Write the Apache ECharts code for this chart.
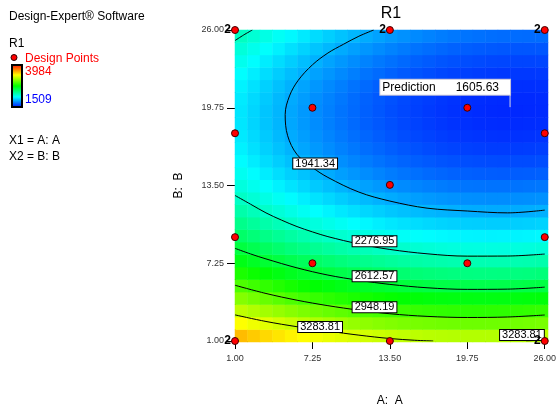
<!DOCTYPE html>
<html><head><meta charset="utf-8">
<script src="https://cdn.jsdelivr.net/npm/echarts@6/dist/echarts.min.js"></script>
<style>html,body{margin:0;padding:0;background:#fff}#c{width:559px;height:412px}</style>
</head><body><div id="c"></div>
<script>
// ---------- data ----------
const cellA = [1.5,2.5,3.5,4.5,5.5,6.5,7.5,8.5,9.5,10.5,11.5,12.5,13.5,14.5,15.5,16.5,17.5,18.5,19.5,20.5,21.5,22.5,23.5,24.5,25.5];
const cellB = [1.5,2.5,3.5,4.5,5.5,6.5,7.5,8.5,9.5,10.5,11.5,12.5,13.5,14.5,15.5,16.5,17.5,18.5,19.5,20.5,21.5,22.5,23.5,24.5,25.5];
// estimated R1 surface, one row per B (bottom to top), one column per A (left to right)
const r1Grid = [
[3527,3491,3457,3425,3395,3367,3341,3316,3294,3274,3256,3240,3225,3213,3202,3194,3188,3183,3181,3180,3182,3185,3190,3198,3207],
[3364,3328,3294,3261,3231,3202,3176,3152,3129,3109,3090,3073,3059,3046,3035,3027,3020,3015,3012,3011,3013,3016,3021,3028,3037],
[3211,3175,3140,3107,3077,3048,3021,2996,2974,2953,2934,2917,2902,2889,2878,2869,2862,2857,2854,2852,2853,2856,2861,2867,2876],
[3068,3031,2996,2963,2932,2903,2876,2851,2828,2806,2787,2770,2755,2741,2730,2721,2713,2708,2705,2703,2703,2706,2710,2717,2725],
[2934,2897,2862,2828,2797,2768,2740,2715,2691,2670,2650,2633,2617,2604,2592,2582,2575,2569,2565,2563,2563,2565,2570,2576,2584],
[2810,2772,2737,2703,2671,2642,2614,2588,2565,2543,2523,2505,2489,2475,2463,2453,2445,2439,2435,2433,2433,2435,2438,2444,2452],
[2695,2657,2622,2588,2556,2526,2498,2472,2447,2425,2405,2387,2371,2357,2344,2334,2326,2319,2315,2312,2312,2313,2317,2322,2329],
[2590,2552,2516,2482,2449,2419,2391,2364,2340,2318,2297,2279,2262,2247,2235,2224,2215,2209,2204,2201,2200,2202,2205,2210,2217],
[2495,2456,2420,2385,2353,2322,2293,2267,2242,2219,2198,2180,2163,2148,2135,2124,2115,2108,2103,2100,2099,2100,2102,2107,2114],
[2409,2370,2334,2299,2266,2235,2206,2179,2154,2131,2110,2090,2073,2058,2045,2033,2024,2017,2011,2008,2007,2007,2010,2014,2020],
[2333,2294,2257,2222,2188,2157,2128,2100,2075,2052,2030,2011,1993,1978,1964,1952,1943,1935,1929,1926,1924,1924,1926,1930,1937],
[2266,2227,2190,2154,2120,2089,2059,2032,2006,1982,1960,1941,1923,1907,1893,1881,1871,1863,1857,1853,1851,1851,1853,1857,1862],
[2209,2170,2132,2096,2062,2030,2000,1972,1946,1922,1900,1880,1862,1846,1832,1819,1809,1801,1794,1790,1788,1787,1789,1792,1798],
[2162,2122,2084,2048,2014,1981,1951,1923,1896,1872,1850,1829,1811,1794,1780,1767,1757,1748,1741,1737,1734,1733,1734,1737,1743],
[2124,2084,2046,2009,1975,1942,1911,1883,1856,1831,1809,1788,1769,1752,1738,1725,1714,1705,1698,1693,1690,1689,1690,1692,1697],
[2096,2055,2017,1980,1945,1912,1881,1852,1825,1800,1777,1756,1737,1720,1705,1692,1680,1671,1664,1659,1655,1654,1654,1657,1661],
[2078,2037,1998,1960,1925,1892,1861,1832,1804,1779,1756,1734,1715,1697,1682,1668,1657,1647,1640,1634,1630,1628,1629,1631,1635],
[2069,2027,1988,1950,1915,1881,1850,1820,1793,1767,1743,1722,1702,1684,1668,1655,1643,1633,1625,1619,1615,1613,1613,1615,1618],
[2069,2028,1988,1950,1914,1881,1849,1819,1791,1765,1741,1719,1699,1681,1665,1650,1638,1628,1620,1613,1609,1607,1606,1608,1611],
[2080,2038,1998,1959,1923,1889,1857,1827,1799,1772,1748,1726,1705,1687,1670,1656,1643,1633,1624,1618,1613,1610,1610,1611,1614],
[2099,2057,2017,1978,1942,1907,1875,1844,1816,1789,1765,1742,1721,1702,1686,1671,1658,1647,1638,1631,1626,1623,1622,1623,1626],
[2129,2086,2046,2007,1970,1935,1902,1872,1843,1816,1791,1768,1747,1728,1711,1696,1682,1671,1662,1655,1649,1646,1645,1645,1648],
[2168,2125,2084,2045,2008,1973,1940,1908,1879,1852,1827,1803,1782,1763,1745,1730,1716,1705,1695,1688,1682,1678,1677,1677,1679],
[2217,2173,2132,2093,2055,2020,1986,1955,1925,1898,1872,1848,1827,1807,1789,1774,1760,1748,1738,1730,1724,1720,1718,1718,1720],
[2275,2231,2190,2150,2112,2076,2043,2011,1981,1953,1927,1903,1881,1861,1843,1827,1813,1801,1791,1782,1776,1772,1770,1769,1771]
];
const colorMin = 1509, colorMax = 3984;

// contour lines [A, B]
const contour1941 = [[12.2,26],[11,25.5],[9.75,24.85],[8.5,24.15],[7.25,23.2],[6.1,21.95],[5.4,20.7],[5.05,19.2],[5.25,17.5],[6,16.0],[7.25,14.95],[8.5,14.15],[11,12.97],[13.5,12.25],[16.5,11.68],[19.75,11.45],[23,11.3],[26,11.52]];
const contour2277 = [[1,12.7],[2.25,12.0],[3.5,11.3],[4.75,10.72],[6,10.2],[7.25,9.77],[8.5,9.39],[11,8.8],[13.5,8.36],[16.5,8.01],[19.75,7.82],[23,7.83],[26,7.99]];
const contour2277Corner = [[1,25.15],[1.7,25.6],[2.4,26]];
const contour2613 = [[1,8.45],[2.25,8.0],[3.5,7.6],[6,6.88],[8.5,6.3],[11,5.88],[13.5,5.55],[16.5,5.28],[19.75,5.15],[23,5.17],[26,5.33]];
const contour2948 = [[1,5.48],[3.5,4.82],[6,4.28],[8.5,3.84],[11,3.48],[13.5,3.19],[16.5,2.98],[19.75,2.89],[23,2.93],[26,3.09]];
const contour3284 = [[1,3.1],[3.5,2.57],[6,2.15],[8.5,1.8],[11,1.47],[13.5,1.2],[15.5,1.06],[17,1.0]];
const contour3284Right = [[24.5,1.0],[25.3,1.05],[26,1.1]];
const contourLines = [contour1941, contour2277, contour2277Corner, contour2613, contour2948, contour3284, contour3284Right];

// contour labels [A, B, text]
const contourLabels = [[7.47,15.26,'1941.34'],[12.26,9.01,'2276.95'],[12.26,6.2,'2612.57'],[12.26,3.72,'2948.19'],[7.87,2.12,'3283.81'],[24.16,1.48,'3283.81']];

// design points [A, B, replicates]
const designPoints = [[1,26,2],[13.5,26,2],[26,26,2],[7.25,19.75,1],[19.75,19.75,1],[1,17.7,1],[26,17.7,1],[13.5,13.55,1],[1,9.35,1],[26,9.35,1],[7.25,7.25,1],[19.75,7.25,1],[1,1,2],[13.5,1,1],[26,1,2]];

const predictionPoint = [23.2, 19.8];
const predictionPole = [[23.2,19.8],[23.2,20.78]];
const predictionValue = '1605.63';

const xTicks = [1, 7.25, 13.5, 19.75, 26];
const yTicks = [1, 7.25, 13.5, 19.75, 26];

// ---------- chart ----------
const FONT = 'Liberation Sans, Arial, sans-serif';
const heatData = [];
r1Grid.forEach((row, j) => row.forEach((v, i) => heatData.push([i, j, v])));

const chart = echarts.init(document.getElementById('c'), null, {renderer: 'canvas'});
const gridBox = {left: 235, top: 30, width: 313, height: 312};

const series = [{
  type: 'heatmap', xAxisIndex: 0, yAxisIndex: 0, data: heatData,
  emphasis: {disabled: true}, progressive: 0, itemStyle: {borderWidth: 0}, z: 1
}];
contourLines.forEach(pts => series.push({
  type: 'line', xAxisIndex: 1, yAxisIndex: 1, data: pts, smooth: 0.35, symbol: 'none',
  lineStyle: {color: '#000', width: 1}, silent: true, z: 3
}));
series.push({
  type: 'scatter', xAxisIndex: 1, yAxisIndex: 1, data: contourLabels, symbolSize: 0, silent: true, z: 4, clip: false,
  itemStyle: {opacity: 1},
  label: {show: true, position: 'inside', formatter: p => p.value[2], fontFamily: FONT, fontSize: 11, color: '#000',
    backgroundColor: '#fff', borderColor: '#000', borderWidth: 1, padding: [0, 2, 0, 2], lineHeight: 10}
});
series.push({
  type: 'line', xAxisIndex: 1, yAxisIndex: 1, data: predictionPole, symbol: 'none', silent: true, z: 4,
  lineStyle: {color: '#d0d0e8', width: 1}
});
series.push({
  type: 'scatter', xAxisIndex: 1, yAxisIndex: 1, data: [predictionPoint], symbolSize: 0, silent: true, z: 5, clip: false,
  itemStyle: {opacity: 1},
  label: {show: true, position: 'left', distance: 0, offset: [0, -20],
    formatter: '{a|Prediction}{b|' + predictionValue + '}',
    backgroundColor: '#fff', borderColor: '#c0c0d8', borderWidth: 1, padding: [2, 11, 1, 2],
    rich: {a: {fontFamily: FONT, fontSize: 12, color: '#000'}, b: {fontFamily: FONT, fontSize: 12, color: '#000', padding: [0, 0, 0, 20]}}}
});
series.push({
  type: 'scatter', xAxisIndex: 1, yAxisIndex: 1, data: designPoints, symbol: 'circle', symbolSize: 7, z: 6, clip: false, silent: true,
  itemStyle: {color: '#ff0000', borderColor: '#400000', borderWidth: 1, opacity: 1},
  label: {show: true, position: 'left', distance: 0, formatter: p => p.value[2] > 1 ? String(p.value[2]) : '',
    fontFamily: FONT, fontSize: 12, fontWeight: 'bold', color: '#000'}
});

const tickFmt = v => Number(v).toFixed(2);
const option = {
  animation: false,
  backgroundColor: '#fff',
  grid: [Object.assign({}, gridBox), Object.assign({}, gridBox)],
  xAxis: [
    {type: 'category', gridIndex: 0, data: cellA.map(String), show: false},
    {type: 'value', gridIndex: 1, min: 1, max: 26,
      axisLine: {show: true, onZero: false, lineStyle: {color: '#000', width: 1}},
      axisTick: {show: true, length: 8, customValues: xTicks, lineStyle: {color: '#000'}},
      axisLabel: {customValues: xTicks, formatter: tickFmt, fontFamily: FONT, fontSize: 9, color: '#333', margin: 13},
      splitLine: {show: false},
      name: 'A:  A', nameLocation: 'middle', nameGap: 54, nameTextStyle: {fontFamily: FONT, fontSize: 12, color: '#000'}},
    {type: 'value', gridIndex: 1, position: 'top', min: 1, max: 26,
      axisLine: {show: true, onZero: false, lineStyle: {color: '#666'}}, axisTick: {show: false}, axisLabel: {show: false}, splitLine: {show: false}}
  ],
  yAxis: [
    {type: 'category', gridIndex: 0, data: cellB.map(String), show: false},
    {type: 'value', gridIndex: 1, min: 1, max: 26,
      axisLine: {show: true, onZero: false, lineStyle: {color: '#000', width: 1}},
      axisTick: {show: true, length: 8, customValues: yTicks, lineStyle: {color: '#000'}},
      axisLabel: {customValues: yTicks, formatter: tickFmt, fontFamily: FONT, fontSize: 9, color: '#333', margin: 11},
      splitLine: {show: false},
      name: 'B:  B', nameLocation: 'middle', nameGap: 50, nameTextStyle: {fontFamily: FONT, fontSize: 12, color: '#000'}},
    {type: 'value', gridIndex: 1, position: 'right', min: 1, max: 26,
      axisLine: {show: true, onZero: false, lineStyle: {color: '#555'}}, axisTick: {show: false}, axisLabel: {show: false}, splitLine: {show: false}}
  ],
  visualMap: {show: false, type: 'continuous', seriesIndex: 0, dimension: 2, min: colorMin, max: colorMax,
    inRange: {color: ['#0000ff', '#00ffff', '#00ff00', '#ffff00', '#ff0000']}},
  graphic: [
    {type: 'text', x: 391, y: 14, style: {text: 'R1', fontFamily: FONT, fontSize: 16, fill: '#000', align: 'center', verticalAlign: 'middle'}},
    {type: 'text', x: 9, y: 17, style: {text: 'Design-Expert® Software', fontFamily: FONT, fontSize: 12, fill: '#000', verticalAlign: 'middle'}},
    {type: 'text', x: 9, y: 44, style: {text: 'R1', fontFamily: FONT, fontSize: 12, fill: '#000', verticalAlign: 'middle'}},
    {type: 'circle', shape: {cx: 14, cy: 57.5, r: 3}, style: {fill: '#ff0000', stroke: '#300000', lineWidth: 1}},
    {type: 'text', x: 25, y: 59, style: {text: 'Design Points', fontFamily: FONT, fontSize: 12, fill: '#ff0000', verticalAlign: 'middle'}},
    {type: 'rect', shape: {x: 12, y: 65, width: 10, height: 42},
      style: {fill: new echarts.graphic.LinearGradient(0, 0, 0, 1, [
        {offset: 0, color: '#ff0000'}, {offset: 0.25, color: '#ffff00'}, {offset: 0.5, color: '#00ff00'},
        {offset: 0.75, color: '#00ffff'}, {offset: 1, color: '#0000ff'}]), stroke: '#000', lineWidth: 2}},
    {type: 'text', x: 25, y: 72, style: {text: String(colorMax), fontFamily: FONT, fontSize: 12, fill: '#ff0000', verticalAlign: 'middle'}},
    {type: 'text', x: 25, y: 100, style: {text: String(colorMin), fontFamily: FONT, fontSize: 12, fill: '#0000ff', verticalAlign: 'middle'}},
    {type: 'text', x: 9, y: 141, style: {text: 'X1 = A: A', fontFamily: FONT, fontSize: 12, fill: '#000', verticalAlign: 'middle'}},
    {type: 'text', x: 9, y: 157, style: {text: 'X2 = B: B', fontFamily: FONT, fontSize: 12, fill: '#000', verticalAlign: 'middle'}}
  ],
  series: series
};
chart.setOption(option);
</script>
</body></html>
